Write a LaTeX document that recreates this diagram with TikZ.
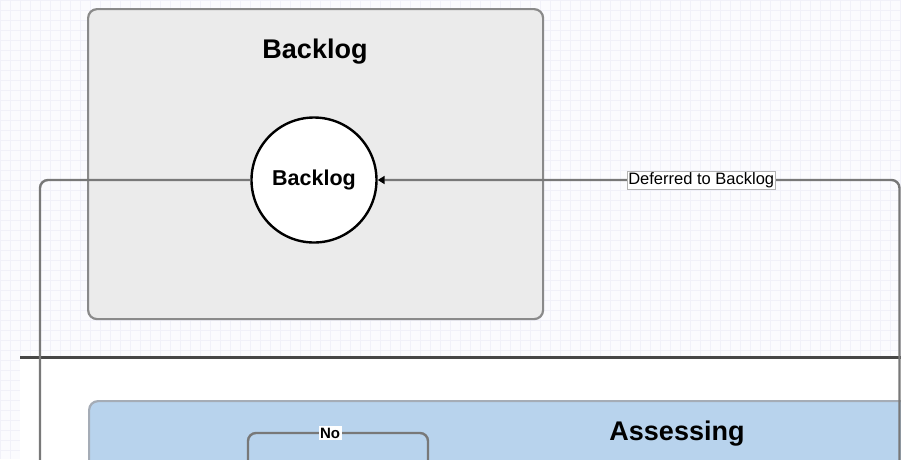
\documentclass[tikz,border=0pt]{standalone}
\usepackage{fontspec}
\setmainfont{Liberation Sans}
\usetikzlibrary{arrows.meta}
\definecolor{gridcol}{RGB}{241,241,249}
\definecolor{canvas}{RGB}{251,251,254}
\definecolor{backlogfill}{RGB}{235,235,235}
\definecolor{phaseedge}{RGB}{138,138,138}
\definecolor{assessfill}{RGB}{184,211,237}
\definecolor{assessedge}{RGB}{165,172,182}
\definecolor{flowcol}{RGB}{120,120,120}
\tikzset{
    phase/.style={draw=phaseedge, line width=2.2pt, rounded corners=9pt, anchor=north west},
    phasetitle/.style={font=\bfseries\fontsize{27}{30}\selectfont, anchor=base},
    statecircle/.style={circle, draw=black, line width=2.4pt, fill=white,
        minimum size=125pt, inner sep=0pt, font=\bfseries\fontsize{21.5}{24}\selectfont},
    flow/.style={draw=flowcol, line width=2.4pt, rounded corners=8pt},
    flowlabel/.style={draw=gray!60, fill=white, line width=0.6pt, inner sep=1.5pt,
        rounded corners=0pt, font=\fontsize{16.5}{18}\selectfont},
    choicelabel/.style={fill=white, inner sep=1.5pt, rounded corners=0pt,
        font=\bfseries\fontsize{15}{17}\selectfont}
}
\begin{document}
\begin{tikzpicture}[x=1pt, y=-1pt]
    \useasboundingbox (0,0) rectangle (901,459);
    \clip (0,0) rectangle (901,459);
    \fill[canvas] (0,0) rectangle (901,459);
    \draw[gridcol, line width=0.6pt]
        (0,459) grid[step=10pt] (901,0);
    \node[phase, fill=backlogfill, minimum width=455pt, minimum height=310pt]
        (backlogphase) at (87,8) {};
    \node[phasetitle] (backlogtitle) at (315,58) {Backlog};
    \fill[white]
        (20,357) rectangle (901,459);
    \draw[line width=3pt, black!72]
        (20,357) -- (901,357);
    \node[phase, draw=assessedge, fill=assessfill, minimum width=840pt, minimum height=120pt]
        (assessphase) at (88,400) {};
    \node[phasetitle] (assesstitle) at (677,440) {Assessing};
    \node[statecircle] (backlog) at (314,180) {Backlog};
    \coordinate (toassess) at (40,475);
    \coordinate (fromlater) at (899.5,475);
    \coordinate (noin) at (248,475);
    \coordinate (noout) at (428,475);
    \draw[flow]
        (backlog.west) -| (toassess);
    \draw[flow, -{Triangle[color=black, length=7pt, width=8pt]}]
        (fromlater) |- (backlog.east)
        node[flowlabel, pos=0.69] {Deferred to Backlog};
    \draw[flow]
        (noin) -- ++(0,-42) -| (noout)
        node[choicelabel, pos=0.228] {No};
\end{tikzpicture}
\end{document}
